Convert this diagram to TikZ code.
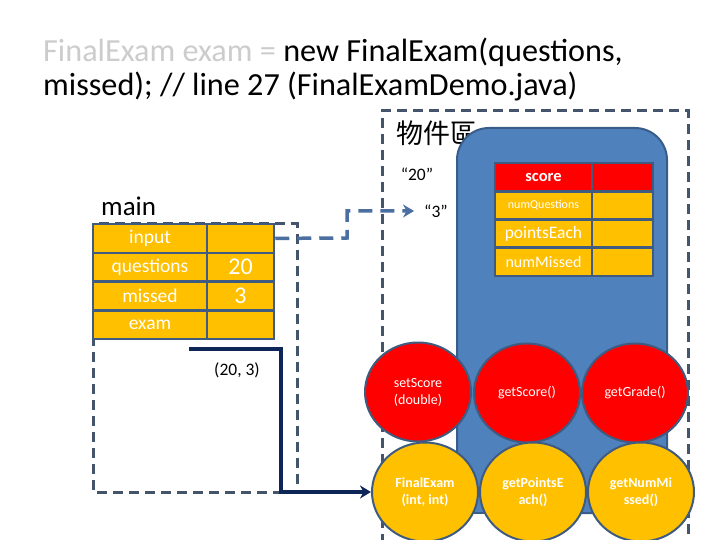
\documentclass[tikz,border=0pt]{standalone}
\usepackage{fontspec}
\setmainfont{Carlito}
\newfontfamily\cjk{Noto Sans CJK TC}
\usetikzlibrary{arrows.meta,shapes.geometric}
\definecolor{frameC}{HTML}{44546A}
\definecolor{cellB}{HTML}{3F5B7F}
\definecolor{yel}{HTML}{FFC000}
\definecolor{objblue}{HTML}{4F81BD}
\definecolor{objborder}{HTML}{385D8A}
\definecolor{dashC}{HTML}{4A6FA0}
\definecolor{navy}{HTML}{0D2657}
\definecolor{ttlgray}{HTML}{CCCCCC}
\newcommand{\fs}[1]{\fontsize{#1}{\fpeval{#1*1.22}}\selectfont}
\begin{document}
\begin{tikzpicture}[x=1pt,y=-1pt,
  framebox/.style={draw=frameC, line width=3pt, dash pattern=on 10pt off 6pt},
  mcell/.style={draw=cellB, line width=2.5pt, fill=yel, text=white, inner sep=0pt, minimum height=28.75pt, font=\fs{19.5}},
  ocell/.style={draw=cellB, line width=2.5pt, fill=yel, text=white, inner sep=0pt, minimum height=28.25pt},
  meth/.style={ellipse, draw=cellB, line width=2pt, minimum width=106pt, minimum height=99pt, text=white, align=center, font=\fs{14}, inner sep=0pt},
  ymeth/.style={meth, fill=yel, font=\bfseries\fs{14}},
  lbl/.style={inner sep=0pt, font=\fs{17.5}}
]
\useasboundingbox (0,0) rectangle (720,540);
% title
\node[anchor=base west, inner sep=0pt, font=\fs{32.2}] (t1) at (43,62) {\textcolor{ttlgray}{FinalExam exam =} new FinalExam(questions,};
\node[anchor=base west, inner sep=0pt, font=\fs{32.2}] (t2) at (43,96) {missed); // line 27 (FinalExamDemo.java)};
% object area frame
\draw[framebox] (382,560) -- (382,111) -- (688,111) -- (688,560);
\node[anchor=west, inner sep=0pt, font=\cjk\fs{27}] (heap) at (396,133) {物件區};
% main stack frame
\draw[framebox] (93,224) rectangle (297,492);
\node[anchor=base west, inner sep=0pt, font=\fs{27}] (mainlbl) at (101,215) {main};
% main table
\foreach \t/\v [count=\i from 0] in {input/, questions/20, missed/3, exam/}{
  \node[mcell, minimum width=114pt] (m\i a) at (150,238.4+28.75*\i) {\t};
  \node[mcell, minimum width=67pt, font=\fs{24}] (m\i b) at (240.5,238.4+28.75*\i) {\v};
}
% object
\fill[objblue, draw=objborder, line width=2pt, rounded corners=32pt] (457,513) -- (457,128) -- (667,128) -- (667,513) -- cycle;
\draw[objborder, line width=2pt, fill=objblue] (457,480) -- (457,513) -- (667,513) -- (667,480);
\fill[objblue] (458,470) rectangle (666,512);
\node[ocell, fill=red, minimum width=97pt, font=\bfseries\fs{16.5}] (o0a) at (543.5,177.1) {score};
\node[ocell, fill=red, minimum width=61pt] (o0b) at (622.5,177.1) {};
\node[ocell, minimum width=97pt, font=\fs{12}] (o1a) at (543.5,205.4) {numQuestions};
\node[ocell, minimum width=61pt] (o1b) at (622.5,205.4) {};
\node[ocell, minimum width=97pt, font=\fs{17.5}] (o2a) at (543.5,233.6) {pointsEach};
\node[ocell, minimum width=61pt] (o2b) at (622.5,233.6) {};
\node[ocell, minimum width=97pt, font=\fs{16}] (o3a) at (543.5,261.9) {numMissed};
\node[ocell, minimum width=61pt] (o3b) at (622.5,261.9) {};
% methods
\node[meth, fill=red] (setScore) at (418,392) {setScore\\(double)};
\node[meth, fill=red] (getScore) at (527,393) {getScore()};
\node[meth, fill=red] (getGrade) at (635,393) {getGrade()};
\node[ymeth] (ctor) at (425,492) {FinalExam\\(int, int)};
\node[ymeth] (getPE) at (533,492) {getPointsE\\ach()};
\node[ymeth] (getNM) at (641,492) {getNumMi\\ssed()};
% labels
\node[lbl] (q20) at (417,174) {“20”};
\node[lbl] (q3) at (436,211) {“3”};
\node[lbl] (args) at (237,370) {(20, 3)};
% dashed reference arrow
\coordinate (d1) at (347,238);
\draw[dashC, line width=3.5pt, dash pattern=on 14pt off 8pt, -{Stealth[length=11pt,width=13pt]}] (m0b.east) -- (d1) |- ([xshift=-10pt]q3.west);
% solid argument arrow
\coordinate (s0) at (189,349);
\coordinate (s1) at (281,349);
\coordinate (s2) at (281,492);
\draw[navy, line width=3.5pt, -{Stealth[length=11pt,width=13pt]}] (s0) -- (s1) -- (s2) -- (ctor.west);
\end{tikzpicture}
\end{document}
